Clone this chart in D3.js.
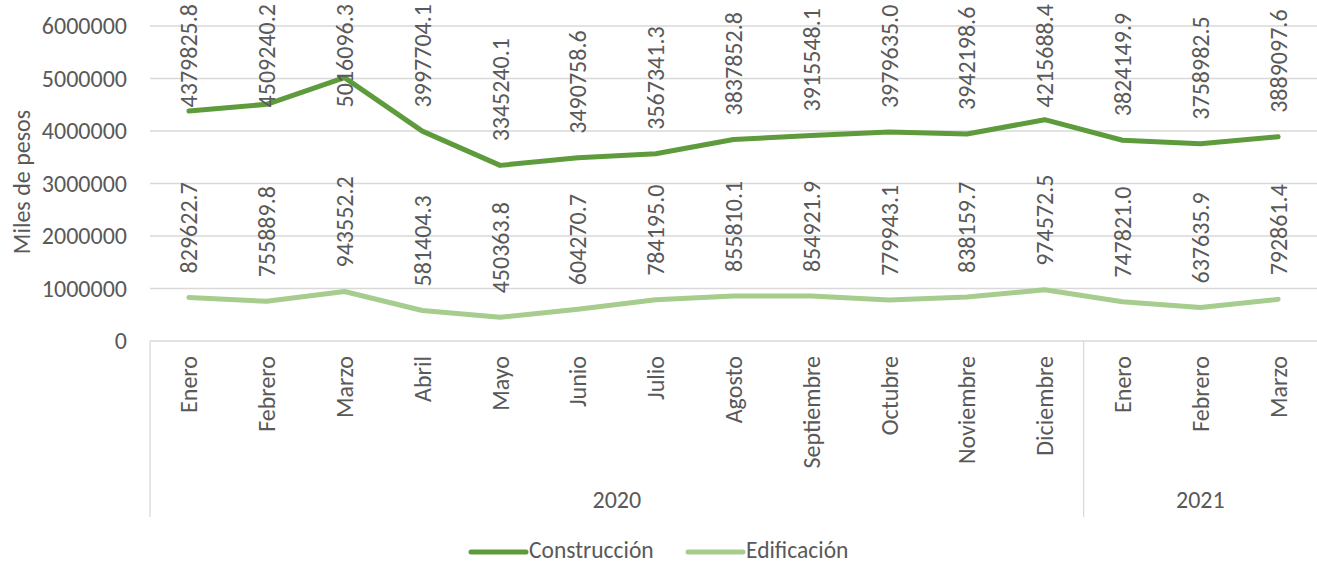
<!DOCTYPE html>
<html>
<head>
<meta charset="utf-8">
<script src="https://cdn.jsdelivr.net/npm/d3@7"></script>
<style>
    body { margin: 0; background: white; }
    text { font-family: Calibri, Carlito, "Open Sans", sans-serif; fill: #595959; }
</style>
</head>
<body>
<script>
// categories and series
var months = ["Enero", "Febrero", "Marzo", "Abril", "Mayo", "Junio", "Julio", "Agosto",
    "Septiembre", "Octubre", "Noviembre", "Diciembre", "Enero", "Febrero", "Marzo"]
var years = [{year: "2020", from: 0, to: 12}, {year: "2021", from: 12, to: 15}]
var construccion = [4379825.8, 4509240.2, 5016096.3, 3997704.1, 3345240.1, 3490758.6, 3567341.3,
    3837852.8, 3915548.1, 3979635.0, 3942198.6, 4215688.4, 3824149.9, 3758982.5, 3889097.6]
var edificacion = [829622.7, 755889.8, 943552.2, 581404.3, 450363.8, 604270.7, 784195.0,
    855810.1, 854921.9, 779943.1, 838159.7, 974572.5, 747821.0, 637635.9, 792861.4]
var yTicks = [0, 1000000, 2000000, 3000000, 4000000, 5000000, 6000000]

var width = 1317
var height = 565
var plot = {left: 150, right: 1317, top: 26, bottom: 341}
var fontSize = 24

var svg = d3.select("body").append("svg")
    .attr("width", width)
    .attr("height", height)

var x = d3.scaleBand()
    .domain(d3.range(months.length))
    .range([plot.left, plot.right])
var yScale = d3.scaleLinear()
    .domain([0, 6000000])
    .range([plot.bottom, plot.top])

// gridlines
svg.selectAll(".grid")
    .data(yTicks)
    .enter()
    .append("line")
    .attr("x1", plot.left)
    .attr("x2", plot.right)
    .attr("y1", function(d) { return yScale(d) })
    .attr("y2", function(d) { return yScale(d) })
    .attr("stroke", "#d9d9d9")
    .attr("stroke-width", 1.3)

// y axis labels
var yAxis = d3.axisLeft(yScale).tickValues(yTicks).tickSize(0).tickPadding(23)
    .tickFormat(d3.format("d"))
var gy = svg.append("g")
    .attr("transform", "translate(" + plot.left + ",0)")
    .call(yAxis)
gy.select(".domain").remove()
gy.attr("font-family", null).attr("font-size", null)
gy.selectAll("text")
    .style("font-size", fontSize + "px")
    .attr("fill", "#595959")

svg.append("text")
    .attr("transform", "translate(22,182) rotate(-90)")
    .attr("text-anchor", "middle")
    .attr("dy", "0.35em")
    .style("font-size", fontSize + "px")
    .text("Miles de pesos")

// category axis: group separators
var sepBottom = 517
var seps = [0, 12]
svg.selectAll(".sep")
    .data(seps)
    .enter()
    .append("line")
    .attr("x1", function(d) { return x(d) })
    .attr("x2", function(d) { return x(d) })
    .attr("y1", plot.bottom)
    .attr("y2", sepBottom)
    .attr("stroke", "#d9d9d9")
    .attr("stroke-width", 1.3)

svg.selectAll(".month")
    .data(months)
    .enter()
    .append("text")
    .attr("transform", function(d, i) {
        return "translate(" + (x(i) + x.bandwidth() / 2) + "," + (plot.bottom + 15) + ") rotate(-90)"
    })
    .attr("text-anchor", "end")
    .attr("dy", "0.35em")
    .style("font-size", fontSize + "px")
    .text(function(d) { return d })

svg.selectAll(".year")
    .data(years)
    .enter()
    .append("text")
    .attr("x", function(d) { return (x(d.from) + (d.to < months.length ? x(d.to) : plot.right)) / 2 })
    .attr("y", 508)
    .attr("text-anchor", "middle")
    .style("font-size", fontSize + "px")
    .text(function(d) { return d.year })

// lines
var series = [
    {name: "Construcción", values: construccion, color: "#5e9b3c"},
    {name: "Edificación", values: edificacion, color: "#a6cc8e"}
]
var line = d3.line()
    .x(function(d, i) { return x(i) + x.bandwidth() / 2 })
    .y(function(d) { return yScale(d) })

series.forEach(function(s) {
    svg.append("path")
        .datum(s.values)
        .attr("d", line)
        .attr("fill", "none")
        .attr("stroke", s.color)
        .attr("stroke-width", 5)
        .attr("stroke-linejoin", "round")
        .attr("stroke-linecap", "round")
})

// data labels, rotated, pushed down when they would leave the chart
series.forEach(function(s) {
    svg.selectAll(null)
        .data(s.values)
        .enter()
        .append("text")
        .attr("text-anchor", "start")
        .attr("dy", "0.35em")
        .style("font-size", fontSize + "px")
        .text(function(d) { return d.toFixed(1) })
        .each(function(d, i) {
            var len = this.getComputedTextLength()
            var yPos = Math.max(yScale(d) - 24, 4 + len)
            d3.select(this).attr("transform",
                "translate(" + (x(i) + x.bandwidth() / 2) + "," + yPos + ") rotate(-90)")
        })
})

// legend
var legend = svg.selectAll(".legend")
    .data(series)
    .enter()
    .append("g")
    .attr("transform", function(d, i) { return "translate(" + (471 + i * 217) + ",551)" })
legend.append("line")
    .attr("x1", 0)
    .attr("x2", 55)
    .attr("y1", 1)
    .attr("y2", 1)
    .attr("stroke", function(d) { return d.color })
    .attr("stroke-width", 5)
    .attr("stroke-linecap", "round")
legend.append("text")
    .attr("x", 58)
    .attr("dy", "0.3em")
    .style("font-size", "23.5px")
    .text(function(d) { return d.name })
</script>
</body>
</html>
